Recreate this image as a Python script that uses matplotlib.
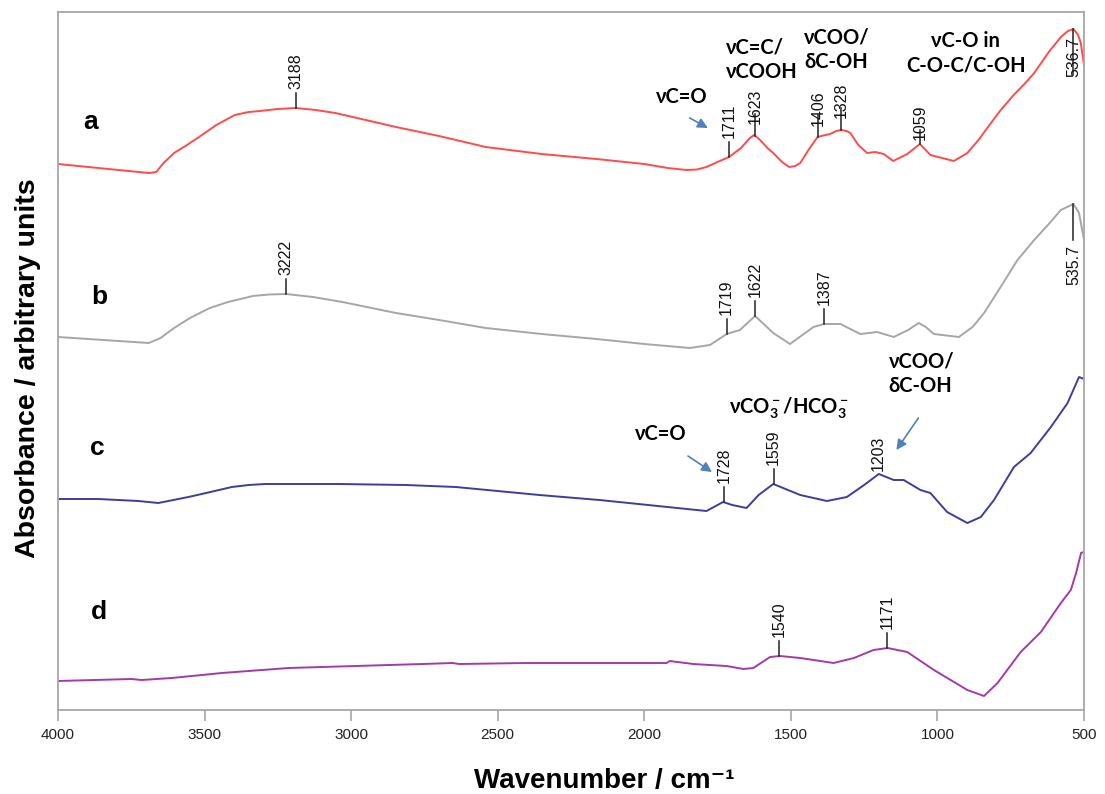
import numpy as np
import matplotlib
matplotlib.use('Agg')
import matplotlib.pyplot as plt

#### FTIR spectra a-d (arbitrary units) ####
wn_a = [4000, 3690, 3665, 3640, 3604, 3560, 3519, 3460, 3397, 3350, 3311, 3250, 3189, 3120,
        3054, 2950, 2847, 2700, 2541, 2350, 2163, 2000, 1920, 1856, 1820, 1788, 1750,
        1711, 1670, 1640, 1625, 1605, 1580, 1560, 1530, 1506, 1485, 1468, 1440, 1409, 1390,
        1366, 1345, 1329, 1310, 1297, 1270, 1240, 1212, 1183, 1151, 1103, 1060, 1024, 944,
        898, 860, 820, 784, 740, 700, 670, 620, 579, 555, 536, 520, 511, 500]
abs_a = [5.46, 5.37, 5.38, 5.47, 5.57, 5.65, 5.73, 5.85, 5.95, 5.98, 5.99, 6.01, 6.02, 6.00,
         5.97, 5.90, 5.83, 5.74, 5.63, 5.56, 5.51, 5.46, 5.42, 5.40, 5.405, 5.43, 5.48,
         5.53, 5.62, 5.72, 5.75, 5.70, 5.62, 5.57, 5.48, 5.43, 5.44, 5.47, 5.60, 5.73, 5.745,
         5.76, 5.79, 5.80, 5.79, 5.77, 5.65, 5.57, 5.58, 5.56, 5.49, 5.56, 5.66, 5.55, 5.49,
         5.57, 5.70, 5.86, 6.00, 6.15, 6.27, 6.37, 6.58, 6.73, 6.79, 6.81, 6.75, 6.67, 6.45]

wn_b = [4000, 3690, 3650, 3604, 3550, 3482, 3420, 3335, 3280, 3222, 3130, 3030, 2847, 2700,
        2541, 2350, 2163, 2000, 1845, 1776, 1750, 1719, 1674,
        1622, 1560, 1503, 1423, 1387, 1331, 1263, 1206, 1149, 1100, 1064, 1040, 1012, 927,
        880, 841, 780, 727, 670, 620, 579, 536, 517, 500]
abs_b = [3.73, 3.67, 3.72, 3.82, 3.92, 4.02, 4.08, 4.14, 4.155, 4.16, 4.13, 4.08, 3.97, 3.90,
         3.82, 3.76, 3.71, 3.66, 3.62, 3.65, 3.70, 3.76, 3.80,
         3.94, 3.77, 3.66, 3.83, 3.86, 3.86, 3.76, 3.78, 3.73, 3.80, 3.87, 3.83, 3.76, 3.73,
         3.83, 3.97, 4.25, 4.50, 4.70, 4.86, 5.00, 5.06, 4.97, 4.70]

wn_c = [4000, 3863, 3726, 3658, 3555, 3480, 3407, 3350, 3293, 3042, 2814, 2643, 2358, 2153, 1788, 1731,
        1700, 1651, 1610, 1560, 1468, 1377, 1309, 1250, 1200, 1149, 1115, 1058, 1024, 967,
        898, 852, 807, 739, 682, 613, 556, 517, 500]
abs_c = [2.11, 2.11, 2.09, 2.07, 2.13, 2.18, 2.23, 2.25, 2.26, 2.26, 2.25, 2.23, 2.15, 2.10, 1.99, 2.08,
         2.05, 2.02, 2.15, 2.26, 2.15, 2.09, 2.13, 2.25, 2.36, 2.30, 2.30, 2.20, 2.17, 1.98,
         1.87, 1.93, 2.10, 2.43, 2.57, 2.83, 3.07, 3.33, 3.31]

wn_d = [4000, 3749, 3715, 3612, 3441, 3213, 2985, 2757, 2654, 2632, 2403, 2153, 1924, 1913,
        1833, 1719, 1662, 1628, 1571, 1537, 1468, 1354, 1285, 1218, 1170, 1103, 1012, 898,
        841, 795, 716, 647, 579, 545, 527, 510, 501]
abs_d = [0.29, 0.31, 0.30, 0.32, 0.37, 0.42, 0.44, 0.46, 0.47, 0.46, 0.47, 0.47, 0.47, 0.49,
         0.46, 0.44, 0.41, 0.42, 0.53, 0.54, 0.52, 0.47, 0.52, 0.60, 0.62, 0.58, 0.40, 0.20,
         0.14, 0.27, 0.58, 0.78, 1.07, 1.20, 1.37, 1.57, 1.58]

# peak labels (text, position in cm-1)
peaks_a = [('3188', 3188), ('1711', 1711), ('1623', 1623), ('1406', 1406), ('1328', 1328), ('1059', 1059)]
peaks_b = [('3222', 3222), ('1719', 1719), ('1622', 1622), ('1387', 1387)]
peaks_c = [('1728', 1728), ('1559', 1559), ('1203', 1203)]
peaks_d = [('1540', 1540), ('1171', 1171)]
# labels drawn below the maximum
low_peaks_a = [('536.7', 536)]
low_peaks_b = [('535.7', 536)]

series = [
    ('a', wn_a, abs_a, '#FF4B4B', peaks_a, low_peaks_a),
    ('b', wn_b, abs_b, '#A6A6A6', peaks_b, low_peaks_b),
    ('c', wn_c, abs_c, '#3D3D9E', peaks_c, []),
    ('d', wn_d, abs_d, '#A33AA8', peaks_d, []),
]
row_label_pos = {'a': (3890, 5.88), 'b': (3860, 4.13), 'c': (3865, 2.62), 'd': (3862, 0.98)}
# (gap above the curve, tick length) where the default does not fit
label_gap = {('a', '1623'): (0.12, 0.22), ('a', '1406'): (0.11, 0.22), ('a', '1328'): (0.12, 0.22),
             ('a', '1059'): (0.04, 0.14), ('c', '1203'): (0.04, 0.0)}
low_gap = {'a': (0.08, 0.46), 'b': (0.41, 0.36)}

fig = plt.figure(figsize=(11.05, 7.94), dpi=100)
ax = fig.add_axes([58/1105, 1-710/794, 1026/1105, 698/794])

for name, wn, ab, col, peaks, lows in series:
    ax.plot(wn, ab, color=col, lw=1.4)
    xs = np.array(wn)[::-1]
    ys = np.array(ab)[::-1]
    for txt, p in peaks:
        yp = np.interp(p, xs, ys)
        gap, ln = label_gap.get((name, txt), (0.19, 0.15))
        if ln > 0:
            ax.plot([p, p], [yp, yp + ln], color='#222222', lw=1.1)
        ax.text(p, yp + gap, txt, rotation=90, ha='center', va='bottom',
                fontsize=11.5, family=['Liberation Sans', 'DejaVu Sans'], color='#111111')
    for txt, p in lows:
        yp = np.interp(p, xs, ys)
        gap, ln = low_gap[name]
        ax.plot([p, p], [yp, yp - ln], color='#222222', lw=1.1)
        ax.text(p, yp - gap, txt, rotation=90, ha='center', va='top',
                fontsize=11.5, family=['Liberation Sans', 'DejaVu Sans'], color='#111111')
    lx, ly = row_label_pos[name]
    ax.text(lx, ly, name, fontsize=19, fontweight='bold', ha='center', va='center',
            family=['Liberation Sans', 'DejaVu Sans'])

# band assignments
plt.rcParams['mathtext.fontset'] = 'custom'
plt.rcParams['mathtext.rm'] = 'Lato:bold'
plt.rcParams['mathtext.it'] = 'Lato:bold'
plt.rcParams['mathtext.bf'] = 'Lato:bold'
ann = dict(fontsize=14.5, fontweight='bold', family=['Lato', 'Noto Sans', 'DejaVu Sans'],
           linespacing=1.3)
arrow = dict(arrowstyle='-|>', color='#4F81BD', lw=1.2, mutation_scale=15, shrinkA=0, shrinkB=0)

ax.text(1872, 6.13, 'νC=O', ha='center', va='center', **ann)
ax.annotate('', xy=(1783, 5.82), xytext=(1845, 5.92), arrowprops=arrow)
ax.text(1722, 6.50, 'νC=C/\nνCOOH', ha='left', va='center', **ann)
ax.text(1455, 6.60, 'νCOO/\nδC-OH', ha='left', va='center', **ann)
ax.text(904, 6.57, 'νC-O in\nC-O-C/C-OH', ha='center', va='center', multialignment='center', **ann)

ax.text(1944, 2.76, 'νC=O', ha='center', va='center', **ann)
ax.annotate('', xy=(1769, 2.38), xytext=(1851, 2.54), arrowprops=arrow)
ax.text(1506, 3.02, r'νCO$_3^-$/HCO$_3^-$', ha='center', va='center', **ann)
ax.text(1167, 3.36, 'νCOO/\nδC-OH', ha='left', va='center', **ann)
ax.annotate('', xy=(1140, 2.60), xytext=(1065, 2.92), arrowprops=arrow)

ax.set_xlim(4000, 500)
ax.set_ylim(0, 6.98)
ax.set_xticks(np.arange(4000, 499, -500))
ax.set_yticks([])
for s in ax.spines.values():
    s.set_color('#A6A6A6')
    s.set_linewidth(1.3)
ax.tick_params(axis='x', direction='out', length=8, width=1.2, color='#A6A6A6', pad=5,
               labelsize=11, labelcolor='#222222')
for lab in ax.get_xticklabels():
    lab.set_family(['Liberation Sans', 'DejaVu Sans'])

ax.set_xlabel('Wavenumber / cm⁻¹', fontsize=20, fontweight='bold',
              family=['Liberation Sans', 'DejaVu Sans'])
ax.xaxis.set_label_coords(0.532, -0.083)
fig.text(28/1105, 1-368/794, 'Absorbance / arbitrary units', rotation=90, ha='center', va='center',
         fontsize=20.5, fontweight='bold', family=['Liberation Sans', 'DejaVu Sans'])

plt.savefig('out.png', dpi=100)
